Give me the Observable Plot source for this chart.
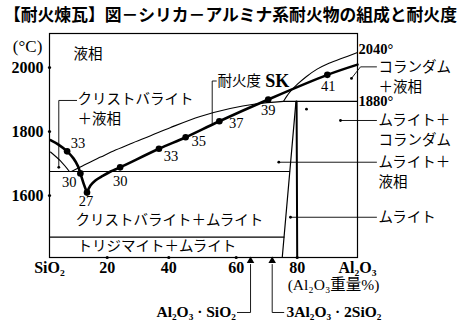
<!DOCTYPE html>
<html><head><meta charset="utf-8">
<script src="https://cdn.jsdelivr.net/npm/d3@7"></script>
<script src="https://cdn.jsdelivr.net/npm/@observablehq/plot@0.6"></script>
<style>
body{margin:0;background:#fff;width:460px;height:324px;overflow:hidden}
#title{height:28px;font-family:"Noto Sans CJK JP";font-weight:bold;font-size:16.8px;line-height:28px;padding-left:4px;white-space:nowrap;color:#000}
svg{display:block}
</style></head><body>
<div id="title">【耐火煉瓦】図－シリカ－アルミナ系耐火物の組成と耐火度</div>
<div id="chart"></div>
<script>
// axis ticks
const xTicks = [0, 20, 40, 60, 80, 100];
const xTickLabels = ["SiO₂", "20", "40", "60", "80", "Al₂O₃"];
const xTickDots = [20, 40, 60, 80];
const yTicks = [1600, 1800, 2000];

// SK (Seger cone) refractoriness curve, two branches
const skLeftAl   = [0.35, 3.1, 6.1, 8.3, 9.9, 10.7, 11.8, 13.0];
const skLeftTemp = [1773, 1759, 1738, 1716, 1691, 1669, 1638, 1609];
const skRightAl   = [13.0, 14.2, 15.9, 18.4, 21.1, 24.2, 36.8, 45.0, 55.0, 70.5, 90.0, 100];
const skRightTemp = [1609, 1631, 1647, 1661, 1675, 1688, 1746, 1782, 1832, 1900, 1977, 2009];
// SK points
const skLabels = ["33", "30", "27", "30", "33", "35", "37", "39", "41"];
const skAl     = [6.1, 10.7, 13.0, 24.2, 36.8, 45.0, 55.0, 70.5, 90.0];
const skTemp   = [1738, 1669, 1609, 1688, 1746, 1782, 1832, 1900, 1977];

// liquidus curves
const cristLiqAl   = [0.35, 3.8, 6.9];
const cristLiqTemp = [1736, 1708, 1675];
const mulLiqAl   = [7.6, 10.7, 14.2, 17.7, 22.7, 27.6, 34.1, 40.4, 49.3, 58.2, 66.3, 75.5];
const mulLiqTemp = [1675, 1689, 1705, 1720, 1742, 1762, 1787, 1812, 1847, 1872, 1886, 1894];
const corLiqAl   = [75.5, 77.5, 80.0, 83.1, 86.6, 90.0, 94.4, 100];
const corLiqTemp = [1894, 1922, 1947, 1972, 1995, 2011, 2027, 2047];

// isotherms
const isoTemp = [1675, 1470, 1894];
const isoFrom = [0, 0, 75.5];
const isoTo   = [77.5, 75.7, 100];

// mullite field boundaries
const mulLeftAl = [79.6, 75.1], mulLeftTemp = [1894, 1406.25];
const mulRightAl = [79.8, 80.0], mulRightTemp = [1894, 1406.25];

// compounds
const compAl = [64.7, 71.8];
const compLabels = ["Al₂O₃ · SiO₂", "3Al₂O₃ · 2SiO₂"];

const yBottom = 1406.25, yTop = 2106.25;
const pts = (xs, ys) => xs.map((x, i) => ({x, y: ys[i]}));
const K = "black";
const jp = "Noto Sans CJK JP";
const serif = "Liberation Serif";

const regionText = [
  ["液相", 8.3, 2040.6],
  ["クリストバライト", 9.7, 1901.6],
  ["＋液相", 9.7, 1837.5],
  ["耐火度", 54.45, 1957.8],
  ["コランダム", 106.97, 1999],
  ["＋液相", 106.97, 1938],
  ["ムライト＋", 106.97, 1834.4],
  ["コランダム", 106.97, 1771.9],
  ["ムライト＋", 106.97, 1704],
  ["液相", 106.97, 1641.6],
  ["ムライト", 106.97, 1532.2],
  ["クリストバライト＋ムライト", 9.0, 1522],
  ["トリジマイト＋ムライト", 9.7, 1440.6]
];
const leaders = [
  [[3.22, 1688], [3.22, 1897], [9.4, 1897]],
  [[52.88, 1822], [52.88, 1957.8], [54.1, 1957.8]],
  [[106.3, 2002], [101.0, 2002], [98.0, 1966]],
  [[94.36, 1834.4], [106.3, 1834.4]],
  [[73.97, 1704], [106.3, 1704]],
  [[77.8, 1532], [106.3, 1532]],
  [[64.7, 1384.4], [64.7, 1234.4], [60.4, 1234.4]],
  [[71.8, 1384.4], [71.8, 1234.4], [75.6, 1234.4]]
];
const leaderDots = [[3.22, 1688], [98.0, 1966], [94.36, 1834.4], [73.97, 1704], [77.8, 1532], [83.08, 1869.7]];
const skOff = [[11,-8],[-11,9],[-1,9],[0,14.5],[12,8],[13,4],[17,2],[0,11],[1,11]];

const marks = [
  Plot.frame({stroke: K, strokeWidth: 1.2}),
  // isotherms
  ...isoTemp.map((t, i) => Plot.line(pts([isoFrom[i], isoTo[i]], [t, t]), {x: "x", y: "y", stroke: K, strokeWidth: 1.1})),
  // mullite boundaries
  Plot.line(pts(mulLeftAl, mulLeftTemp), {x: "x", y: "y", stroke: K, strokeWidth: 1.2}),
  Plot.line(pts(mulRightAl, mulRightTemp), {x: "x", y: "y", stroke: K, strokeWidth: 2}),
  // liquidus curves
  Plot.line(pts(cristLiqAl, cristLiqTemp), {x: "x", y: "y", stroke: K, strokeWidth: 1.1, curve: "catmull-rom"}),
  Plot.line(pts(mulLiqAl, mulLiqTemp), {x: "x", y: "y", stroke: K, strokeWidth: 1.1, curve: "catmull-rom"}),
  Plot.line(pts(corLiqAl, corLiqTemp), {x: "x", y: "y", stroke: K, strokeWidth: 1.1, curve: "catmull-rom"}),
  // SK curve
  Plot.line(pts(skLeftAl, skLeftTemp), {x: "x", y: "y", stroke: K, strokeWidth: 2.6, curve: "catmull-rom"}),
  Plot.line(pts(skRightAl, skRightTemp), {x: "x", y: "y", stroke: K, strokeWidth: 2.6, curve: "catmull-rom"}),
  Plot.dot(pts(skAl, skTemp), {x: "x", y: "y", r: 3.3, fill: K}),
  ...skLabels.map((t, i) => Plot.text([t], {x: skAl[i], y: skTemp[i], text: d => d, dx: skOff[i][0], dy: skOff[i][1], fontFamily: serif, fontSize: 14.5, fill: K})),
  // leaders
  ...leaders.map(l => Plot.line(l, {x: d => d[0], y: d => d[1], stroke: K, strokeWidth: 0.9})),
  Plot.dot(leaderDots, {x: d => d[0], y: d => d[1], r: 1.4, fill: K}),
  // region texts
  Plot.text(regionText, {x: d => d[1], y: d => d[2], text: d => d[0], textAnchor: "start", fontFamily: jp, fontSize: 14.5, fill: K}),
  Plot.text(["SK"], {x: 69.56, y: 1957.8, text: d => d, textAnchor: "start", fontFamily: serif, fontWeight: "bold", fontSize: 18, fill: K}),
  Plot.text(["2040°", "1880°"], {x: 100.33, y: (d, i) => [2058, 1893.75][i], text: d => d, textAnchor: "start", fontFamily: serif, fontWeight: "bold", fontSize: 14.5, fill: K}),
  Plot.text(["(°C)"], {x: -7.6, y: 2065.6, text: d => d, fontFamily: serif, fontSize: 17, fill: K}),
  // axes
  Plot.axisX({ticks: xTicks, tickFormat: d => xTickLabels[xTicks.indexOf(d)], tickSize: 0, tickPadding: 4, fontSize: 16, fontWeight: "bold", fontFamily: serif, label: null}),
  Plot.axisY({ticks: yTicks, tickFormat: d => String(d), tickSize: 0, tickPadding: 6, fontSize: 16, fontWeight: "bold", fontFamily: serif, label: null}),
  Plot.dot(xTickDots, {x: d => d, y: yBottom, r: 1.6, fill: K}),
  Plot.dot(yTicks, {x: 0, y: d => d, r: 1.6, fill: K}),
  Plot.text(["(Al₂O₃重量%)"], {x: 92.04, y: 1318.75, text: d => d, fontFamily: serif + ", " + jp, fontSize: 15.5, fill: K}),
  // compounds
  Plot.dot(compAl, {x: d => d, y: 1396, symbol: "triangle", r: 2.8, fill: K}),
  Plot.text([compLabels[0]], {x: 59.9, y: 1234.4, text: d => d, textAnchor: "end", fontFamily: serif, fontWeight: "bold", fontSize: 15.5, fill: K}),
  Plot.text([compLabels[1]], {x: 76.5, y: 1234.4, text: d => d, textAnchor: "start", fontFamily: serif, fontWeight: "bold", fontSize: 15.5, fill: K})
];

const chart = Plot.plot({
  width: 460, height: 296,
  marginLeft: 49, marginRight: 103, marginTop: 5, marginBottom: 67,
  x: {type: "linear", domain: xTicks, range: [49, 106.7, 168.3, 235.7, 296.7, 357]},
  y: {domain: [yBottom, yTop]},
  style: {background: "white", overflow: "visible", color: "black"},
  marks
});
document.getElementById("chart").appendChild(chart);
</script></body></html>
